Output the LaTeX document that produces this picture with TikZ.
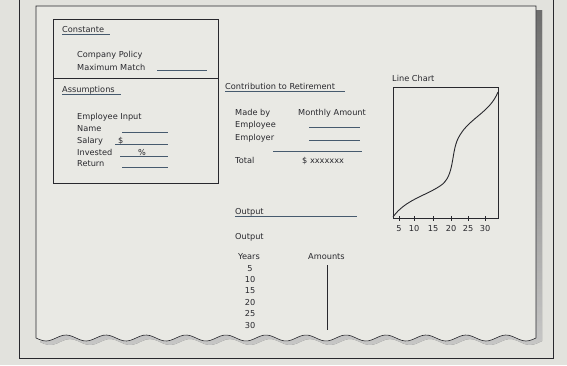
\documentclass[tikz,border=0pt]{standalone}
\usepackage{fontspec}
\setmainfont{DejaVu Sans}
\definecolor{bg}{RGB}{226,226,221}
\definecolor{pg}{RGB}{233,233,228}
\definecolor{ink}{RGB}{40,40,45}
\definecolor{shade}{RGB}{110,100,170}
\definecolor{uline}{RGB}{70,90,110}
\begin{document}
\begin{tikzpicture}[x=1pt,y=-1pt,
  lbl/.style={anchor=base west,inner sep=0pt,font=\fontsize{8.2}{9}\selectfont,text=ink},
  num/.style={anchor=base,inner sep=0pt,font=\fontsize{8.2}{9}\selectfont,text=ink},
  fld/.style={draw=uline,line width=0.6pt},
  frame/.style={draw=ink,line width=0.6pt}]
\useasboundingbox (0,0) rectangle (567,365);
\fill[bg] (0,0) rectangle (567,365);
% outer frame
\draw[frame] (19,0) -- (19,358) -- (553,358) -- (553,0);
% page shadow
\fill[shade,opacity=0.7] (536,10) -- (542,10) -- (542,336) -- plot[domain=542:40,samples=120] (\x,{342+3*sin((\x-40)*9)}) -- (40,342) -- cycle;
% page
\fill[pg] (36,6) -- (536,6) -- (536,333) -- plot[domain=536:36,samples=150] (\x,{338+3*sin((\x-36)*9)}) -- cycle;
\draw[frame] (36,6) -- (536,6) -- (536,333) -- plot[domain=536:36,samples=150] (\x,{338+3*sin((\x-36)*9)}) -- cycle;
% Constante box
\draw[frame] (53,19) rectangle (218,183);
\draw[frame] (53,78) -- (218,78);
\node[lbl] (cst) at (62,32) {Constante};
\draw[fld] (62,34) -- (110,34);
\node[lbl] (cp) at (77,57) {Company Policy};
\node[lbl] (mm) at (77,70) {Maximum Match};
\draw[fld] (157,70) -- (207,70);
\node[lbl] (as) at (62,92) {Assumptions};
\draw[fld] (62,94) -- (121,94);
\node[lbl] (ei) at (77,119) {Employee Input};
\node[lbl] (nm) at (77,131) {Name};
\draw[fld] (122,132) -- (168,132);
\node[lbl] (sl) at (77,143) {Salary};
\node[lbl] at (118,143) {\$};
\draw[fld] (115,144) -- (168,144);
\node[lbl] (iv) at (77,155) {Invested};
\node[lbl] at (138,155) {\%};
\draw[fld] (120,156) -- (168,156);
\node[lbl] (rt) at (77,166) {Return};
\draw[fld] (122,167) -- (168,167);
% Contribution
\node[lbl] (ctr) at (225,89) {Contribution to Retirement};
\draw[fld] (225,91) -- (345,91);
\node[lbl] (mb) at (235,115) {Made by};
\node[lbl] (ma) at (298,115) {Monthly Amount};
\node[lbl] (ee) at (235,127) {Employee};
\node[lbl] (er) at (235,140) {Employer};
\draw[fld] (309,127) -- (360,127);
\draw[fld] (309,140) -- (360,140);
\draw[fld] (273,151) -- (362,151);
\node[lbl] (tt) at (235,163) {Total};
\node[lbl] (tv) at (302,163) {\$ xxxxxxx};
% Line chart
\node[lbl] (lc) at (392,81) {Line Chart};
\draw[frame] (393,87) rectangle (498,218);
\draw[ink,line width=0.9pt] (393,217) .. controls (405,200) and (425,196) .. (440,186)
  .. controls (456,176) and (450,150) .. (460,135)
  .. controls (470,118) and (490,112) .. (498,92);
\foreach \t/\xx in {5/399,10/414,15/433,20/451,25/468,30/485}{
  \draw[ink,line width=0.5pt] (\xx,216) -- (\xx,221);
  \node[num] at (\xx,231) {\t};
}
% Output
\node[lbl] (out1) at (235,214) {Output};
\draw[fld] (235,216) -- (357,216);
\node[lbl] (out2) at (235,239) {Output};
\node[lbl] (yr) at (238,259) {Years};
\node[lbl] (am) at (308,259) {Amounts};
\foreach \v/\yy in {5/271,10/282,15/293,20/305,25/316,30/328}{
  \node[num] at (250,\yy) {\v};
}
\draw[ink,line width=0.6pt] (327,265) -- (327,330);
\end{tikzpicture}
\end{document}
